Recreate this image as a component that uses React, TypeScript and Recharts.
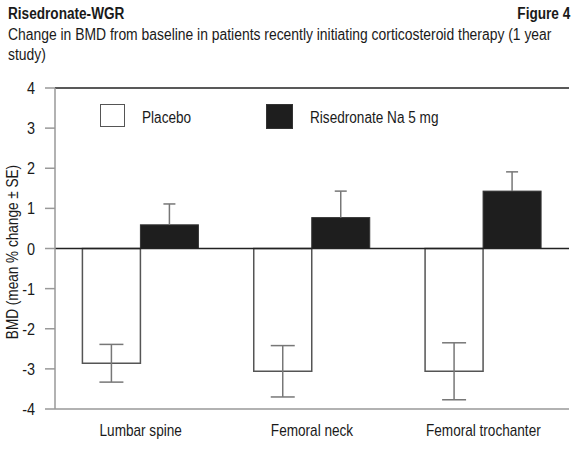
import React from "react";
import {
  BarChart,
  Bar,
  XAxis,
  YAxis,
  ReferenceLine,
  ErrorBar,
} from "recharts";

const categories = ["Lumbar spine", "Femoral neck", "Femoral trochanter"];
const placebo = [-2.86, -3.06, -3.06];
const placeboSE = [0.47, 0.64, 0.71];
const risedronate = [0.59, 0.77, 1.43];
const risedronateSE = [0.52, 0.66, 0.48];
const yTicks = [-4, -3, -2, -1, 0, 1, 2, 3, 4];

const FONT = "'Liberation Sans', Arial, sans-serif";
const SX = 0.85; // squeeze to mimic a condensed face

const narrow = (origin = "left", s = SX): React.CSSProperties => ({
  transform: `scaleX(${s})`,
  transformOrigin: origin,
  whiteSpace: "nowrap",
});

function XTick({ x, y, payload }: any) {
  return (
    <g transform={`translate(${x},${y})`}>
      <text transform={`scale(${SX},1)`} textAnchor="middle" dy={15} fontSize={16} fill="#1a1a1a" fontFamily={FONT}>
        {payload.value}
      </text>
    </g>
  );
}

function YTick({ x, y, payload }: any) {
  return (
    <g transform={`translate(${x},${y})`}>
      <text transform={`scale(${SX},1)`} textAnchor="end" dy={6} fontSize={17} fill="#1a1a1a" fontFamily={FONT}>
        {payload.value}
      </text>
    </g>
  );
}

// black bar with only the upper half of its ± SE whisker (lower half is hidden in the bar)
function RisBar(props: any) {
  const { x, y, width, height, value, payload } = props;
  const pxPerUnit = value ? height / value : 0;
  const top = y - payload.risErr * pxPerUnit;
  const cx = x + width / 2;
  return (
    <g>
      <rect x={x} y={y} width={width} height={height} fill="#1e1e1e" stroke="#333" strokeWidth={1} />
      <line x1={cx} x2={cx} y1={y} y2={top} stroke="#777" strokeWidth={1.5} />
      <line x1={cx - 6} x2={cx + 6} y1={top} y2={top} stroke="#777" strokeWidth={1.5} />
    </g>
  );
}

export default function App() {
  const data = categories.map((name, i) => ({
    name,
    placebo: placebo[i],
    placeboErr: placeboSE[i],
    ris: risedronate[i],
    risErr: risedronateSE[i],
  }));

  return (
    <div
      style={{
        position: "absolute",
        left: 0,
        top: 0,
        width: 578,
        height: 450,
        background: "#fff",
        fontFamily: FONT,
        color: "#1a1a1a",
      }}
    >
      <div style={{ position: "absolute", left: 8, top: 5, fontSize: 16, fontWeight: "bold", lineHeight: "18px", ...narrow() }}>
        Risedronate-WGR
      </div>
      <div style={{ position: "absolute", right: 8, top: 5, fontSize: 16, fontWeight: "bold", lineHeight: "18px", ...narrow("right") }}>
        Figure 4
      </div>
      <div style={{ position: "absolute", left: 8, top: 25, fontSize: 16, lineHeight: "20px", ...narrow("left", 0.868) }}>
        Change in BMD from baseline in patients recently initiating corticosteroid therapy (1 year
        <br />
        study)
      </div>

      <div style={{ position: "absolute", left: 0, top: 0 }}>
        <BarChart
          width={578}
          height={450}
          data={data}
          margin={{ top: 88, right: 9, left: 10, bottom: 11 }}
          barCategoryGap="16%"
          barGap={0}
        >
          <XAxis
            dataKey="name"
            height={30}
            tickLine={false}
            tickSize={0}
            tickMargin={12}
            axisLine={{ stroke: "#999", strokeWidth: 1.5 }}
            tick={<XTick />}
          />
          <YAxis
            yAxisId="l"
            width={45}
            domain={[-4, 4]}
            ticks={yTicks}
            interval={0}
            tickSize={10}
            tickMargin={10}
            tickLine={{ stroke: "#999", strokeWidth: 1.5 }}
            axisLine={{ stroke: "#999", strokeWidth: 1.5 }}
            tick={<YTick />}
          />
          <YAxis
            yAxisId="r"
            orientation="right"
            width={0}
            domain={[-4, 4]}
            tick={false}
            tickLine={false}
            axisLine={{ stroke: "#999", strokeWidth: 1.5 }}
          />
          <ReferenceLine yAxisId="l" y={4} stroke="#222" strokeWidth={1.5} />
          <Bar
            yAxisId="l"
            dataKey="placebo"
            fill="#fff"
            stroke="#555"
            strokeWidth={1.5}
            isAnimationActive={false}
          >
            <ErrorBar dataKey="placeboErr" width={12} stroke="#777" strokeWidth={1.5} />
          </Bar>
          <Bar
            yAxisId="l"
            dataKey="ris"
            fill="#1e1e1e"
            shape={<RisBar />}
            isAnimationActive={false}
          />
          <ReferenceLine yAxisId="l" y={0} stroke="#222" strokeWidth={1.5} />
        </BarChart>
      </div>

      <svg style={{ position: "absolute", left: 0, top: 0 }} width={30} height={450}>
        <text
          x={0}
          y={0}
          transform={`translate(18 252) rotate(-90) scale(${SX},1)`}
          textAnchor="middle"
          fontSize={16}
          fill="#1a1a1a"
          fontFamily={FONT}
        >
          BMD (mean % change ± SE)
        </text>
      </svg>

      <div
        style={{
          position: "absolute",
          left: 100,
          top: 104,
          width: 23,
          height: 21,
          border: "1.5px solid #555",
          background: "#fff",
        }}
      />
      <div style={{ position: "absolute", left: 142, top: 108, fontSize: 16, lineHeight: "20px", ...narrow() }}>
        Placebo
      </div>
      <div
        style={{
          position: "absolute",
          left: 266,
          top: 104,
          width: 25,
          height: 23,
          background: "#1e1e1e",
          border: "0.5px solid #333",
        }}
      />
      <div style={{ position: "absolute", left: 310, top: 108, fontSize: 16, lineHeight: "20px", ...narrow() }}>
        Risedronate Na 5 mg
      </div>
    </div>
  );
}
